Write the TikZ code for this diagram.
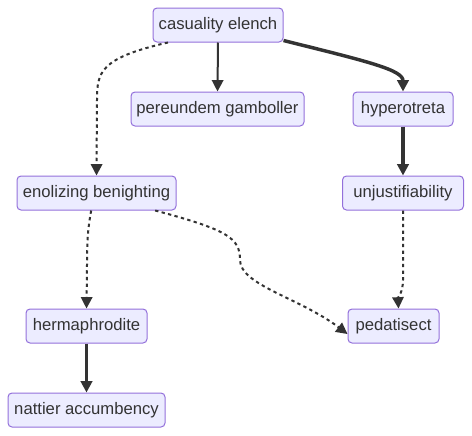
\documentclass[tikz,border=0pt]{standalone}
\usepackage{fontspec}
\setmainfont{Liberation Sans}
\usetikzlibrary{arrows.meta}
\definecolor{nodefill}{HTML}{ECECFF}
\definecolor{nodeborder}{HTML}{9370DB}
\definecolor{ink}{HTML}{333333}
\begin{document}
\begin{tikzpicture}[x=0.75pt,y=-0.75pt,
  box/.style={draw=nodeborder,fill=nodefill,rounded corners=3pt,line width=0.75pt,
    minimum height=25.5pt,inner xsep=0pt,text=ink,font=\fontsize{12.5}{14}\selectfont},
  edge/.style={draw=ink,line width=1.5pt,-{Triangle[length=8.5pt,width=8.5pt]}},
  thickedge/.style={edge,line width=2.6pt},
  dottededge/.style={edge,dash pattern=on 2.5pt off 2.5pt}]
\useasboundingbox (0,0) rectangle (472,436);
\node[box,minimum width=97.5pt] (cas) at (218,25) {casuality elench};
\node[box,minimum width=129.75pt] (per) at (217.5,109) {pereundem gamboller};
\node[box,minimum width=75pt] (hyp) at (403,109) {hyperotreta};
\node[box,minimum width=119.25pt] (eno) at (96.5,193) {enolizing benighting};
\node[box,minimum width=90.75pt] (unj) at (403,193) {unjustifiability};
\node[box,minimum width=90.75pt] (her) at (86.5,326) {hermaphrodite};
\node[box,minimum width=68.25pt] (ped) at (393.5,326) {pedatisect};
\node[box,minimum width=117.75pt] (nat) at (86.5,410) {nattier accumbency};

\draw[edge] (cas.south) -- (per.north);
\draw[thickedge] (cas.south east) ++(0,-2) .. controls (370,62) and (403,70) .. (hyp.north);
\draw[dottededge] ([xshift=-37.5pt]cas.south) .. controls (100,58) and (97,72) .. (97,100) -- (eno.north);
\draw[thickedge] (hyp.south) -- (unj.north);
\draw[dottededge] ([xshift=-4pt]eno.south) .. controls (88,228) and (87,240) .. (87,265) -- (her.north);
\draw[dottededge] ([xshift=44pt]eno.south) .. controls (228,230) and (240,238) .. (240,260) .. controls (240,285) and (300,298) .. ([yshift=-6pt]ped.west);
\draw[dottededge] (unj.south) -- (403,280) .. controls (403,292) and (398,298) .. ([xshift=3.75pt]ped.north);
\draw[thickedge] (her.south) -- (nat.north);
\end{tikzpicture}
\end{document}
